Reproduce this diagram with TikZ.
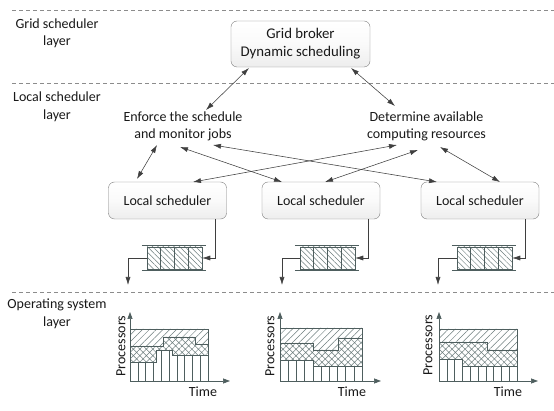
\documentclass[tikz,border=0pt]{standalone}
\usepackage{fontspec}
\setmainfont{Carlito}
\usetikzlibrary{arrows.meta,patterns.meta,calc}
\definecolor{arrc}{HTML}{3F3F3F}
\definecolor{dashc}{HTML}{8C8C8C}
\definecolor{boxc}{HTML}{7F7F7F}
\definecolor{hatchc}{HTML}{6E7E7E}
\definecolor{chartc}{HTML}{4E5E5E}
\begin{document}
\begin{tikzpicture}[x=1pt,y=-1pt,
  txt/.style={font=\fontsize{14}{17.5}\selectfont, align=center, inner sep=0pt, text=black!90},
  lbl/.style={txt},
  sched/.style={txt, draw=boxc, rounded corners=6pt, top color=white, bottom color=black!7,
     middle color=black!2, minimum width=118pt, minimum height=37pt},
  broker/.style={sched, font=\fontsize{14.8}{18}\selectfont, minimum width=139pt, minimum height=46pt},
  layerline/.style={draw=dashc, line width=0.6pt, dash pattern=on 4pt off 3pt},
  dbl/.style={draw=arrc, line width=0.55pt, {Latex[length=8pt,width=5pt]}-{Latex[length=8pt,width=5pt]}},
  sgl/.style={draw=arrc, line width=0.55pt, -{Latex[length=8pt,width=5pt]}},
  qcell/.style={draw=chartc, line width=0.5pt, minimum width=55pt, minimum height=22pt, inner sep=0pt,
     pattern={Lines[angle=-45,distance=3.8pt,line width=0.5pt]}, pattern color=hatchc},
  qline/.style={draw=chartc, line width=0.5pt},
  hatchA/.style={pattern={Lines[angle=45,distance=4.8pt,line width=0.5pt]}, pattern color=hatchc},
  hatchX/.style={pattern={Hatch[angle=45,distance=4.6pt,line width=0.5pt]}, pattern color=hatchc},
  cline/.style={draw=chartc, line width=0.55pt},
  axis/.style={draw=chartc, line width=0.7pt, -{Triangle[length=7pt,width=5pt]}},
]
\useasboundingbox (0,0) rectangle (554,411);
\fill[white] (0,0) rectangle (554,411);

% layer separators
\coordinate (d1a) at (12,10);  \coordinate (d1b) at (554,10);
\coordinate (d2a) at (12,83);  \coordinate (d2b) at (554,83);
\coordinate (d3a) at (12,292); \coordinate (d3b) at (554,292);
\draw[layerline] (d1a) -- (d1b);
\draw[layerline] (d2a) -- (d2b);
\draw[layerline] (d3a) -- (d3b);

% layer labels
\node[lbl] (lg) at (57,33.5) {Grid scheduler\\layer};
\node[lbl] (ll) at (57,107) {Local scheduler\\layer};
\node[lbl] (lo) at (57,314) {Operating system\\layer};

% nodes
\node[broker] (gb) at (300.5,44) {Grid broker\\Dynamic scheduling};
\node[txt] (enf) at (183,126.5) {Enforce the schedule\\and monitor jobs};
\node[txt] (det) at (426.5,126.5) {Determine available\\computing resources};
\node[sched] (ls1) at (167.5,200.5) {Local scheduler};
\node[sched] (ls2) at (321,200.5) {Local scheduler};
\node[sched] (ls3) at (480,200.5) {Local scheduler};

% connectors
\draw[dbl] ([shift={(-51.5,24)}]gb.center) -- ([shift={(23,-16.5)}]enf.center);
\draw[dbl] ([shift={(50.5,24)}]gb.center) -- ([shift={(-31.5,-20.5)}]det.center);
\draw[dbl] ([shift={(-26,18.5)}]enf.center) -- ([shift={(-30.5,-21.5)}]ls1.center);
\draw[dbl] ([shift={(-3,20.5)}]enf.center) -- ([shift={(-39,-18.5)}]ls2.center);
\draw[dbl] ([shift={(30,18.5)}]enf.center) -- ([shift={(-43,-18.5)}]ls3.center);
\draw[dbl] ([shift={(-29.5,18.5)}]det.center) -- ([shift={(25.5,-18.5)}]ls1.center);
\draw[dbl] ([shift={(-8.5,23.5)}]det.center) -- ([shift={(4,-18.5)}]ls2.center);
\draw[dbl] ([shift={(13.5,20.5)}]det.center) -- ([shift={(20,-18.5)}]ls3.center);

% queues
\node[qcell] (q1) at (174.5,258) {};
\node[qcell] (q2) at (327.5,258) {};
\node[qcell] (q3) at (484.5,258) {};
\foreach \q in {q1,q2,q3}{
  \foreach \k in {1,2,3}{
    \draw[qline] ($(\q.north west)+(\k*13.75,0)$) -- ($(\q.south west)+(\k*13.75,0)$);
  }
  \draw[qline] ($(\q.north west)+(-5,-1)$) -- ($(\q.north east)+(4,-1)$);
  \draw[qline] ($(\q.south west)+(-5,1)$) -- ($(\q.south east)+(4,1)$);
}
\coordinate (o1) at (128,285);
\coordinate (o2) at (282,285);
\coordinate (o3) at (438,285);
\draw[sgl] ([xshift=47.5pt]ls1.south) |- (q1.east);
\draw[sgl] ([xshift=47pt]ls2.south) |- (q2.east);
\draw[sgl] ([xshift=45pt]ls3.south) |- (q3.east);
\draw[sgl] (q1.west) -| (o1);
\draw[sgl] (q2.west) -| (o2);
\draw[sgl] (q3.west) -| (o3);

% ---------- chart 1 ----------
\fill[hatchA] (130,329) -- (208,329) -- (208,344) -- (195,344) -- (195,337) -- (163,337) -- (163,346) -- (130,346) -- cycle;
\fill[hatchX] (130,346) -- (163,346) -- (163,337) -- (195,337) -- (195,344) -- (208,344) -- (208,355) -- (172,355) -- (172,350) -- (156,350) -- (156,362) -- (130,362) -- cycle;
\begin{scope}
\clip (130,362) -- (156,362) -- (156,350) -- (172,350) -- (172,355) -- (208,355) -- (208,381) -- (130,381) -- cycle;
\foreach \i in {1,...,9} \draw[cline] (130+\i*7.8,340) -- (130+\i*7.8,381);
\end{scope}
\draw[cline] (130,329) rectangle (208,381);
\draw[cline] (130,346) -- (163,346) -- (163,337) -- (195,337) -- (195,344) -- (208,344);
\draw[cline] (130,362) -- (156,362) -- (156,350) -- (172,350) -- (172,355) -- (208,355);
\coordinate (c1o) at (130,381); \coordinate (c1y) at (130,312); \coordinate (c1x) at (230,381);
\draw[axis] (c1o) -- (c1y);
\draw[axis] (c1o) -- (c1x);
\node[txt] (t1) at (203,392) {Time};
\node[txt, rotate=90] (p1) at (121,346) {Processors};

% ---------- chart 2 ----------
\fill[hatchA] (280,328) -- (362,328) -- (362,338) -- (338,338) -- (338,350) -- (313,350) -- (313,343) -- (280,343) -- cycle;
\fill[hatchX] (280,343) -- (313,343) -- (313,350) -- (338,350) -- (338,338) -- (362,338) -- (362,366) -- (313,366) -- (313,360) -- (280,360) -- cycle;
\begin{scope}
\clip (280,360) -- (313,360) -- (313,366) -- (362,366) -- (362,381) -- (280,381) -- cycle;
\foreach \i in {1,...,9} \draw[cline] (280+\i*8.2,340) -- (280+\i*8.2,381);
\end{scope}
\draw[cline] (280,328) rectangle (362,381);
\draw[cline] (280,343) -- (313,343) -- (313,350) -- (338,350) -- (338,338) -- (362,338);
\draw[cline] (280,360) -- (313,360) -- (313,366) -- (362,366);
\coordinate (c2o) at (280,381); \coordinate (c2y) at (280,312); \coordinate (c2x) at (381,381);
\draw[axis] (c2o) -- (c2y);
\draw[axis] (c2o) -- (c2x);
\node[txt] (t2) at (352,392) {Time};
\node[txt, rotate=90] (p2) at (270,346) {Processors};

% ---------- chart 3 ----------
\fill[hatchA] (439,329) -- (517,329) -- (517,350) -- (487,350) -- (487,342) -- (439,342) -- cycle;
\fill[hatchX] (439,342) -- (487,342) -- (487,350) -- (517,350) -- (517,366) -- (462,366) -- (462,359) -- (439,359) -- cycle;
\begin{scope}
\clip (439,359) -- (462,359) -- (462,366) -- (517,366) -- (517,381) -- (439,381) -- cycle;
\foreach \i in {1,...,9} \draw[cline] (439+\i*7.8,340) -- (439+\i*7.8,381);
\end{scope}
\draw[cline] (439,329) rectangle (517,381);
\draw[cline] (439,342) -- (487,342) -- (487,350) -- (517,350);
\draw[cline] (439,359) -- (462,359) -- (462,366) -- (517,366);
\coordinate (c3o) at (439,381); \coordinate (c3y) at (439,312); \coordinate (c3x) at (538,381);
\draw[axis] (c3o) -- (c3y);
\draw[axis] (c3o) -- (c3x);
\node[txt] (t3) at (508,392) {Time};
\node[txt, rotate=90] (p3) at (428,345) {Processors};
\end{tikzpicture}
\end{document}
